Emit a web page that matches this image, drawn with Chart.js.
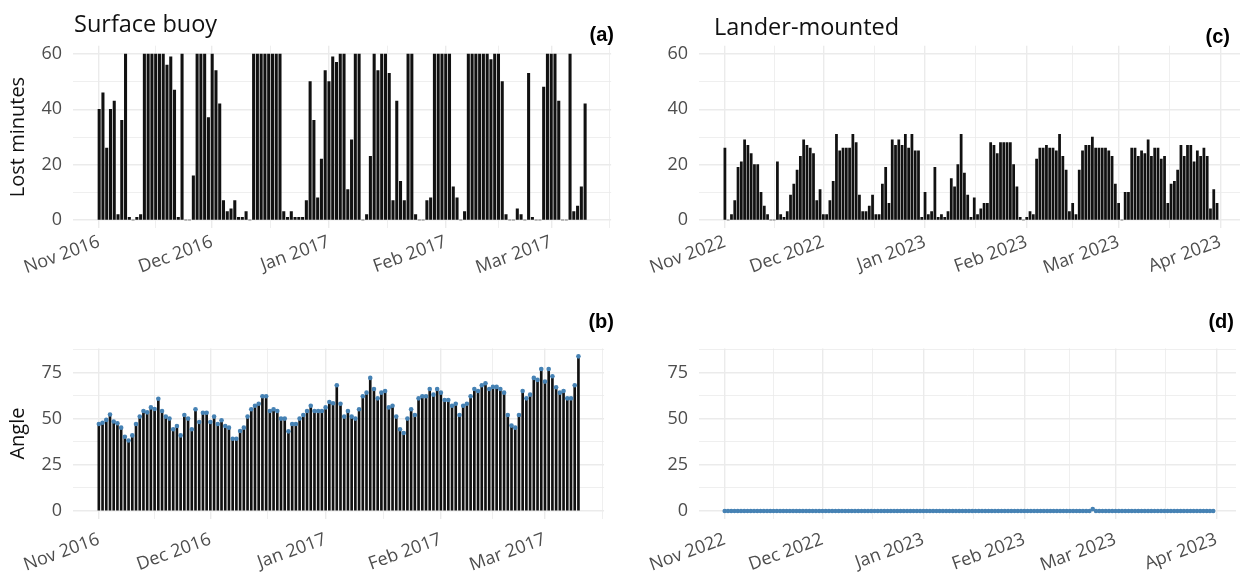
<!DOCTYPE html>
<html><head><meta charset="utf-8">
<script src="https://cdn.jsdelivr.net/npm/chart.js@4.4.1/dist/chart.umd.min.js"></script>
<style>
html,body{margin:0;padding:0;background:#fff;overflow:hidden;width:1240px;height:576px;}
canvas{position:absolute;}
</style></head><body>
<canvas id="ca" width="620" height="288" style="left:0;top:0"></canvas>
<canvas id="cb" width="620" height="288" style="left:0;top:288px"></canvas>
<canvas id="cc" width="610" height="288" style="left:630px;top:0"></canvas>
<canvas id="cd" width="610" height="288" style="left:630px;top:288px"></canvas>
<script>
// ---- data: one value per day, index 0 = 1 November ----
const buoyMonthTicks = [0, 30, 61, 92, 120];
const buoyMonthLabels = ['Nov 2016', 'Dec 2016', 'Jan 2017', 'Feb 2017', 'Mar 2017'];
const buoyMinorTicks = [15, 45.5, 76.5, 106, 135.5];
const landerMonthTicks = [0, 30, 61, 92, 120, 151];
const landerMonthLabels = ['Nov 2022', 'Dec 2022', 'Jan 2023', 'Feb 2023', 'Mar 2023', 'Apr 2023'];
const landerMinorTicks = [15, 45.5, 76.5, 106, 135.5];
const lostTicks = [0, 20, 40, 60];
const lostMinorTicks = [10, 30, 50];
const angleTicks = [0, 25, 50, 75];
const angleMinorTicks = [12.5, 37.5, 62.5, 87.5];

// Surface buoy, lost minutes per day (1 Nov 2016 - 10 Mar 2017)
const buoyLost = [
  40, 46, 26, 40, 43, 2, 36, 60, 1, 0,
  1, 2, 60, 60, 60, 60, 60, 60, 56, 59,
  47, 1, 60, 0, 0, 16, 60, 60, 60, 37,
  60, 54, 42, 7, 3, 4, 7, 1, 1, 3,
  0, 60, 60, 60, 60, 60, 60, 60, 60, 3,
  1, 3, 1, 1, 1, 7, 50, 36, 8, 22,
  54, 50, 59, 57, 60, 60, 11, 29, 60, 60,
  0, 2, 23, 60, 54, 60, 60, 53, 7, 43,
  14, 7, 60, 60, 2, 0, 0, 7, 8, 60,
  60, 60, 60, 60, 12, 8, 0, 3, 60, 60,
  60, 60, 60, 60, 58, 60, 60, 50, 2, 0,
  0, 4, 2, 0, 53, 1, 0, 0, 48, 60,
  60, 60, 43, 0, 0, 60, 3, 5, 12, 42
];
// Surface buoy, angle per day
const buoyAngle = [
  47.2, 47.9, 49.4, 52.3, 48.5, 47.6, 45.2, 40.3, 38.2, 41.0,
  47.2, 51.2, 54.2, 53.5, 56.2, 55.3, 60.9, 54.2, 51.2, 50.1,
  44.3, 46.1, 41.0, 52.1, 50.1, 44.3, 55.2, 48.3, 53.3, 53.3,
  48.3, 51.2, 47.2, 49.2, 46.1, 45.2, 39.2, 39.2, 43.4, 45.2,
  51.2, 55.2, 57.1, 58.2, 62.2, 62.2, 54.2, 55.2, 54.2, 50.1,
  50.1, 43.2, 47.2, 47.2, 50.1, 52.1, 54.2, 57.1, 54.2, 54.2,
  54.2, 56.2, 59.1, 58.4, 68.2, 58.2, 51.2, 54.2, 51.2, 50.1,
  55.2, 62.2, 64.2, 72.2, 66.2, 61.1, 64.2, 65.1, 56.2, 57.1,
  51.2, 44.3, 42.3, 50.1, 55.2, 52.1, 61.1, 62.2, 62.2, 66.2,
  63.1, 66.2, 64.2, 60.2, 60.2, 57.1, 58.2, 52.1, 57.1, 58.2,
  62.2, 66.2, 65.1, 68.2, 69.3, 66.2, 67.3, 67.3, 66.2, 64.2,
  52.1, 46.3, 45.2, 52.1, 65.1, 61.1, 63.1, 72.2, 71.1, 77.0,
  70.2, 77.0, 73.1, 67.1, 64.2, 65.1, 61.1, 61.1, 68.2, 83.9
];
// Lander-mounted, lost minutes per day (1 Nov 2022 - 31 Mar 2023)
const landerLost = [
  26, 0, 2, 7, 19, 21, 29, 27, 24, 20,
  20, 10, 5, 2, 0, 0, 21, 2, 1, 3,
  9, 13, 18, 23, 29, 27, 26, 24, 7, 11,
  2, 2, 7, 14, 31, 25, 26, 26, 26, 31,
  28, 9, 3, 3, 5, 9, 2, 2, 13, 19,
  6, 29, 27, 29, 27, 31, 26, 31, 25, 25,
  1, 10, 2, 3, 19, 1, 2, 1, 3, 15,
  12, 20, 31, 17, 9, 1, 8, 2, 4, 6,
  6, 28, 27, 24, 28, 28, 28, 28, 20, 12,
  1, 0, 1, 3, 2, 22, 26, 26, 27, 26,
  26, 25, 31, 23, 18, 3, 6, 2, 18, 25,
  27, 27, 30, 26, 26, 26, 26, 25, 23, 13,
  6, 0, 10, 10, 26, 26, 23, 25, 24, 29,
  23, 26, 26, 22, 23, 6, 13, 14, 18, 27,
  23, 27, 27, 21, 25, 23, 26, 23, 4, 11,
  6
];
// Lander-mounted, angle per day
const landerAngle = [
  0, 0, 0, 0, 0, 0, 0, 0, 0, 0,
  0, 0, 0, 0, 0, 0, 0, 0, 0, 0,
  0, 0, 0, 0, 0, 0, 0, 0, 0, 0,
  0, 0, 0, 0, 0, 0, 0, 0, 0, 0,
  0, 0, 0, 0, 0, 0, 0, 0, 0, 0,
  0, 0, 0, 0, 0, 0, 0, 0, 0, 0,
  0, 0, 0, 0, 0, 0, 0, 0, 0, 0,
  0, 0, 0, 0, 0, 0, 0, 0, 0, 0,
  0, 0, 0, 0, 0, 0, 0, 0, 0, 0,
  0, 0, 0, 0, 0, 0, 0, 0, 0, 0,
  0, 0, 0, 0, 0, 0, 0, 0, 0, 0,
  0, 0, 0, 1, 0, 0, 0, 0, 0, 0,
  0, 0, 0, 0, 0, 0, 0, 0, 0, 0,
  0, 0, 0, 0, 0, 0, 0, 0, 0, 0,
  0, 0, 0, 0, 0, 0, 0, 0, 0, 0,
  0
];

// ---- helpers ----
const FONT = "'Open Sans', 'Noto Sans', sans-serif";
const TAGFONT = "'Liberation Sans', Arial, sans-serif";
const GRID = '#EBEBEB';
const BLUE = '#4682B4';

const toPoints = arr => arr.map((v, i) => ({ x: i, y: v }));

const panelText = {
  id: 'panelText',
  afterDraw(chart, args, opts) {
    const ctx = chart.ctx;
    ctx.save();
    (opts.items || []).forEach(t => {
      ctx.font = t.font;
      ctx.fillStyle = t.color || '#000';
      ctx.textAlign = t.align || 'left';
      ctx.textBaseline = t.baseline || 'alphabetic';
      ctx.fillText(t.text, t.x, t.y);
    });
    ctx.restore();
  }
};

function xAxis(major, labels, minor, min, max, height, pad) {
  return {
    type: 'linear', min, max, offset: false,
    afterBuildTicks(s) {
      s.ticks = major.map(v => ({ value: v })).concat(minor.map(v => ({ value: v })));
    },
    afterFit(s) { s.height = height; },
    ticks: {
      autoSkip: false, minRotation: 20, maxRotation: 20, padding: pad,
      color: '#4D4D4D', font: { family: FONT, size: 18 },
      callback(v) { const i = major.indexOf(v); return i >= 0 ? labels[i] : ''; }
    },
    grid: {
      drawTicks: false, offset: false,
      color: GRID,
      lineWidth: c => (c.tick && major.indexOf(c.tick.value) >= 0) ? 1.4 : 0.8
    },
    border: { display: false }
  };
}

function yAxis(major, minor, min, max, width, title) {
  const cfg = {
    min, max,
    afterBuildTicks(s) {
      s.ticks = major.map(v => ({ value: v })).concat(minor.map(v => ({ value: v })));
    },
    afterFit(s) { s.width = width; },
    ticks: {
      autoSkip: false, padding: 11, color: '#4D4D4D', font: { family: FONT, size: 18 },
      callback(v) { return major.indexOf(v) >= 0 ? String(v) : ''; }
    },
    grid: {
      drawTicks: false, color: GRID,
      lineWidth: c => (c.tick && major.indexOf(c.tick.value) >= 0) ? 1.4 : 0.8
    },
    border: { display: false }
  };
  if (title) {
    cfg.title = { display: true, text: title, color: '#111',
      font: { family: FONT, size: 20, lineHeight: 1.2 }, padding: { top: 6, bottom: 0 } };
  }
  return cfg;
}

function makeChart(id, cfg) {
  const datasets = [{
    type: 'bar', data: toPoints(cfg.bars), backgroundColor: '#111111',
    borderWidth: 0, barThickness: cfg.barWidth, order: 2
  }];
  if (cfg.points) {
    datasets.push({
      type: 'line', data: toPoints(cfg.points), showLine: false,
      pointRadius: 2.3, pointBackgroundColor: BLUE, pointBorderWidth: 0, order: 1
    });
  }
  return new Chart(document.getElementById(id), {
    type: 'bar',
    data: { datasets },
    options: {
      responsive: false, animation: false, devicePixelRatio: 1,
      layout: { padding: cfg.padding },
      plugins: { legend: { display: false }, tooltip: { enabled: false }, panelText: { items: cfg.texts } },
      scales: { x: cfg.x, y: cfg.y }
    },
    plugins: [panelText]
  });
}

function build() {
  // (a) Surface buoy - lost minutes
  makeChart('ca', {
    bars: buoyLost, barWidth: 2.4,
    padding: { top: 45.7, right: 5, left: 0, bottom: 0 },
    x: xAxis(buoyMonthTicks, buoyMonthLabels, buoyMinorTicks, -6.95, 135.9, 59.7, 3),
    y: yAxis(lostTicks, lostMinorTicks, -3, 63, 73, 'Lost minutes'),
    texts: [
      { text: 'Surface buoy', x: 74, y: 32, font: `23.5px ${FONT}`, color: '#111' },
      { text: '(a)', x: 614, y: 35, font: `bold 20px ${TAGFONT}`, align: 'right', baseline: 'middle' }
    ]
  });
  // (b) Surface buoy - angle
  makeChart('cb', {
    bars: buoyAngle, points: buoyAngle, barWidth: 2.0,
    padding: { top: 60.4, right: 5, left: 0, bottom: 0 },
    x: xAxis(buoyMonthTicks, buoyMonthLabels, buoyMinorTicks, -6.95, 135.9, 57.3, 10),
    y: yAxis(angleTicks, angleMinorTicks, -4.2, 88.2, 73, 'Angle'),
    texts: [
      { text: '(b)', x: 614, y: 34, font: `bold 20px ${TAGFONT}`, align: 'right', baseline: 'middle' }
    ]
  });
  // (c) Lander-mounted - lost minutes
  makeChart('cc', {
    bars: landerLost, barWidth: 2.1,
    padding: { top: 45.7, right: 0, left: 0, bottom: 0 },
    x: xAxis(landerMonthTicks, landerMonthLabels, landerMinorTicks, -7.9, 157, 59.7, 3),
    y: yAxis(lostTicks, lostMinorTicks, -3, 63, 69, null),
    texts: [
      { text: 'Lander-mounted', x: 84, y: 35, font: `23.5px ${FONT}`, color: '#111' },
      { text: '(c)', x: 600, y: 37, font: `bold 20px ${TAGFONT}`, align: 'right', baseline: 'middle' }
    ]
  });
  // (d) Lander-mounted - angle
  makeChart('cd', {
    bars: landerAngle, points: landerAngle, barWidth: 2.0,
    padding: { top: 60.4, right: 0, left: 0, bottom: 0 },
    x: xAxis(landerMonthTicks, landerMonthLabels, landerMinorTicks, -7.9, 157, 57.3, 10),
    y: yAxis(angleTicks, angleMinorTicks, -4.2, 88.2, 69, null),
    texts: [
      { text: '(d)', x: 604, y: 34, font: `bold 20px ${TAGFONT}`, align: 'right', baseline: 'middle' }
    ]
  });
}

const fontLoads = [
  document.fonts.load(`18px ${FONT}`),
  document.fonts.load(`23.5px ${FONT}`),
  document.fonts.load(`bold 20px ${TAGFONT}`)
];
Promise.all(fontLoads).catch(() => {}).then(build);
</script>
</body></html>
